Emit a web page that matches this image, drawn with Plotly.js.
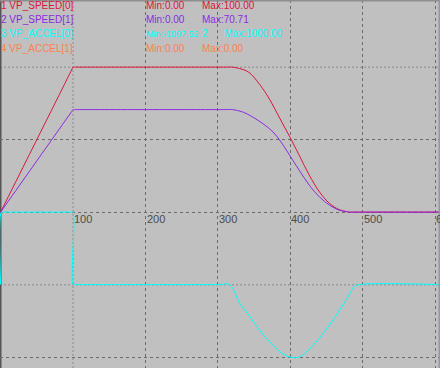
<!DOCTYPE html>
<html>
<head>
<meta charset="utf-8">
<script src="https://cdn.plot.ly/plotly-3.0.1.min.js"></script>
<style>html,body{margin:0;padding:0;background:#c0c0c0;}#chart{width:440px;height:368px;}</style>
</head>
<body>
<div id="chart"></div>
<script>
// ---- data ----
const speed0T = [0, 98, 100, 102, 310, 320, 330, 339, 346, 353, 362, 371, 385, 399, 412, 426, 440, 454, 467, 479, 481, 490, 606];
const speed0V = [0, 98, 100, 100, 100, 100, 99, 97.5, 95, 91, 85, 78, 65, 52, 39.3, 25.5, 14, 6, 1.8, 0.2, 0, 0, 0];

const speed1T = [0, 98, 100, 102, 310, 320, 334, 348, 362, 376, 387, 396, 412, 426, 440, 454, 467, 479, 481, 490, 606];
const speed1V = [0, 69.3, 70.71, 70.71, 70.71, 70.71, 69.1, 65.6, 61, 55.3, 48.4, 41.5, 29, 18.6, 10.5, 4.8, 1.4, 0.2, 0, 0, 0];

const accel0T = [0, 1, 3, 98, 100, 100, 102, 300, 316, 330, 344, 357, 371, 385, 396, 405, 414, 426, 440, 454, 468, 481, 488, 495, 606];
const accel0V = [0, 1000, 1000, 1000, 1000, 0, 0, 0, 0, -256, -440, -624, -785, -922, -990, -1007.52, -990, -890, -738, -555, -348, -142, -27, 0, 0];

const seriesNames = ["1 VP_SPEED[0]", "2 VP_SPEED[1]", "3 VP_ACCEL[0]", "4 VP_ACCEL[1]"];
const minLabels = ["Min:0.00", "Min:0.00", "Min:-1007.52", "Min:0.00"];
const maxLabels = ["Max:100.00", "Max:70.71", "2      Max:1000.00", "Max:0.00"];
const seriesColors = ["#dc143c", "#8a2be2", "#00ffff", "#ff7f50"];

const xTickVals = [100, 200, 300, 400, 500, 600];
const xTickText = ["100", "200", "300", "400", "500", "600"];

// ---- chart ----
const FONT = "Liberation Sans, Arial, sans-serif";
const traces = [
  {x: speed0T, y: speed0V, mode: "lines", line: {color: seriesColors[0], width: 1, shape: "spline", smoothing: 1}, yaxis: "y", hoverinfo: "skip"},
  {x: speed1T, y: speed1V, mode: "lines", line: {color: seriesColors[1], width: 1, shape: "spline", smoothing: 1}, yaxis: "y", hoverinfo: "skip"},
  {x: accel0T, y: accel0V, mode: "lines", line: {color: seriesColors[2], width: 1, shape: "spline", smoothing: 1}, yaxis: "y2", hoverinfo: "skip"}
];

const annotations = [];
const rowY = [5, 19.5, 34, 48.5];
seriesNames.forEach((n, i) => {
  const y = 1 - rowY[i] / 368;
  annotations.push({xref: "paper", yref: "paper", x: 0, y: y, xanchor: "left", yanchor: "middle", text: n, showarrow: false, font: {family: FONT, size: 10, color: seriesColors[i]}, borderpad: 0});
  annotations.push({xref: "paper", yref: "paper", x: 145 / 440, y: y, xanchor: "left", yanchor: "middle", text: minLabels[i], showarrow: false, font: {family: FONT, size: i === 2 ? 9 : 10, color: seriesColors[i]}, borderpad: 0});
  annotations.push({xref: "paper", yref: "paper", x: 201 / 440, y: y, xanchor: "left", yanchor: "middle", text: maxLabels[i].replace(/ /g, "&nbsp;"), showarrow: false, font: {family: FONT, size: 10, color: seriesColors[i]}, borderpad: 0});
});
xTickVals.forEach((v, i) => {
  annotations.push({xref: "x", yref: "y", x: v, y: 0, xanchor: "left", yanchor: "top", text: xTickText[i], showarrow: false, xshift: 0, yshift: 0, borderpad: 0, font: {family: FONT, size: 11, color: "#4c4c4c"}});
});

const lightGrid = {color: "#9c9c9c", width: 1.5, dash: "2px,2px"};
const layout = {
  width: 440, height: 368, autosize: false,
  margin: {l: 0, r: 0, t: 0, b: 0, pad: 0},
  paper_bgcolor: "#c0c0c0", plot_bgcolor: "#c0c0c0",
  showlegend: false,
  xaxis: {range: [-0.8, 606.4], tickvals: [200, 300, 400, 500, 600], showticklabels: false, ticks: "",
          showgrid: true, gridcolor: "#6c6c6c", griddash: "3px,3px", gridwidth: 1, zeroline: false, showline: false, fixedrange: true},
  yaxis: {range: [-107.5, 146.3], tickvals: [-100, 0, 50], showticklabels: false, ticks: "",
          showgrid: true, gridcolor: "#6c6c6c", griddash: "3px,3px", gridwidth: 1, zeroline: false, showline: false, fixedrange: true},
  yaxis2: {range: [-1150, 3926], overlaying: "y", visible: false, showgrid: false, zeroline: false, fixedrange: true},
  shapes: [
    {type: "line", xref: "x", yref: "paper", x0: 100, x1: 100, y0: 0, y1: 1, line: lightGrid, layer: "below"},
    {type: "line", xref: "paper", yref: "y", x0: 0, x1: 1, y0: 100, y1: 100, line: lightGrid, layer: "below"},
    {type: "line", xref: "paper", yref: "y", x0: 0, x1: 1, y0: -50, y1: -50, line: lightGrid, layer: "below"},
    {type: "line", xref: "paper", yref: "paper", x0: 0, x1: 0, y0: 0, y1: 1, line: {color: "#555555", width: 3}, layer: "below"},
    {type: "line", xref: "paper", yref: "paper", x0: 0, x1: 1, y0: 1, y1: 1, line: {color: "#8e8e8e", width: 3}, layer: "above"},
    {type: "line", xref: "paper", yref: "paper", x0: 1, x1: 1, y0: 0, y1: 1, line: {color: "#8c9aa8", width: 3}, layer: "above"}
  ],
  annotations: annotations
};
Plotly.newPlot("chart", traces, layout, {displayModeBar: false, staticPlot: true});
</script>
</body>
</html>
